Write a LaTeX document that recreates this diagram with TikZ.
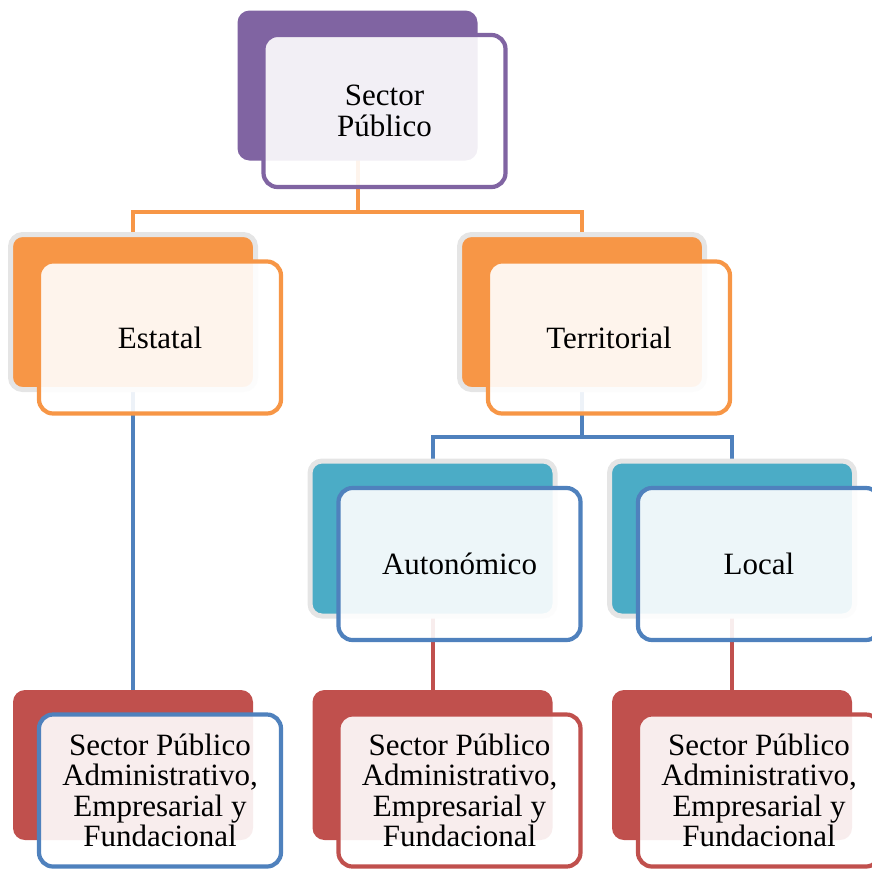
\documentclass[tikz,border=0pt]{standalone}
\usepackage{fontspec}
\setmainfont{Liberation Serif}
\usetikzlibrary{backgrounds}
\definecolor{morado}{HTML}{8064A2}
\definecolor{naranja}{HTML}{F79646}
\definecolor{turquesa}{HTML}{4BACC6}
\definecolor{azul}{HTML}{4F81BD}
\definecolor{rojo}{HTML}{C0504D}
\begin{document}
\begin{tikzpicture}[x=1pt,y=-1pt,
	back/.style={rectangle,rounded corners=12pt,minimum width=240pt,minimum height=150pt,inner sep=0pt},
	halo/.style={draw=black!10,line width=5pt,minimum width=245pt,minimum height=155pt},
	front/.style={rectangle,rounded corners=14pt,minimum width=242pt,minimum height=152pt,line width=4.2pt,
		fill=white,fill opacity=0.9,text opacity=1,align=center,font=\fontsize{31}{30.5}\selectfont},
	link/.style={line width=4pt}]
	\useasboundingbox (0,0) rectangle (872,868);
	% back boxes
	\node[back,fill=morado] (spB) at (357.5,85.5) {};
	\node[back,halo,fill=naranja] (estB) at (133,312) {};
	\node[back,halo,fill=naranja] (terB) at (582,312) {};
	\node[back,halo,fill=turquesa] (autB) at (432.5,538.5) {};
	\node[back,halo,fill=turquesa] (locB) at (732,538.5) {};
	\node[back,fill=rojo] (pubaB) at (133,765) {};
	\node[back,fill=rojo] (pubbB) at (432.5,765) {};
	\node[back,fill=rojo] (pubcB) at (732,765) {};
	% front boxes
	\node[front,draw=morado] (spF) at ([shift={(27,25.5)}]spB.center) {Sector\\Público};
	\node[front,draw=naranja] (estF) at ([shift={(27,25.5)}]estB.center) {Estatal};
	\node[front,draw=naranja] (terF) at ([shift={(27,25.5)}]terB.center) {Territorial};
	\node[front,draw=azul] (autF) at ([shift={(27,25.5)}]autB.center) {Autonómico};
	\node[front,draw=azul] (locF) at ([shift={(27,25.5)}]locB.center) {Local};
	\node[front,draw=azul] (pubaF) at ([shift={(27,25.5)}]pubaB.center) {Sector Público\\Administrativo,\\Empresarial y\\Fundacional};
	\node[front,draw=rojo] (pubbF) at ([shift={(27,25.5)}]pubbB.center) {Sector Público\\Administrativo,\\Empresarial y\\Fundacional};
	\node[front,draw=rojo] (pubcF) at ([shift={(27,25.5)}]pubcB.center) {Sector Público\\Administrativo,\\Empresarial y\\Fundacional};
	% connectors
	\begin{scope}[on background layer]
		\coordinate (busA) at (0,212);
		\coordinate (busB) at (0,437);
		\draw[link,naranja] (spB.center) -- (spB.center |- busA) -| (estB.center);
		\draw[link,naranja] (spB.center |- busA) -| (terB.center);
		\draw[link,azul] (estB.center) -- (pubaB.center);
		\draw[link,azul] (terB.center) -- (terB.center |- busB) -| (autB.center);
		\draw[link,azul] (terB.center |- busB) -| (locB.center);
		\draw[link,rojo] (autB.center) -- (pubbB.center);
		\draw[link,rojo] (locB.center) -- (pubcB.center);
	\end{scope}
\end{tikzpicture}
\end{document}
